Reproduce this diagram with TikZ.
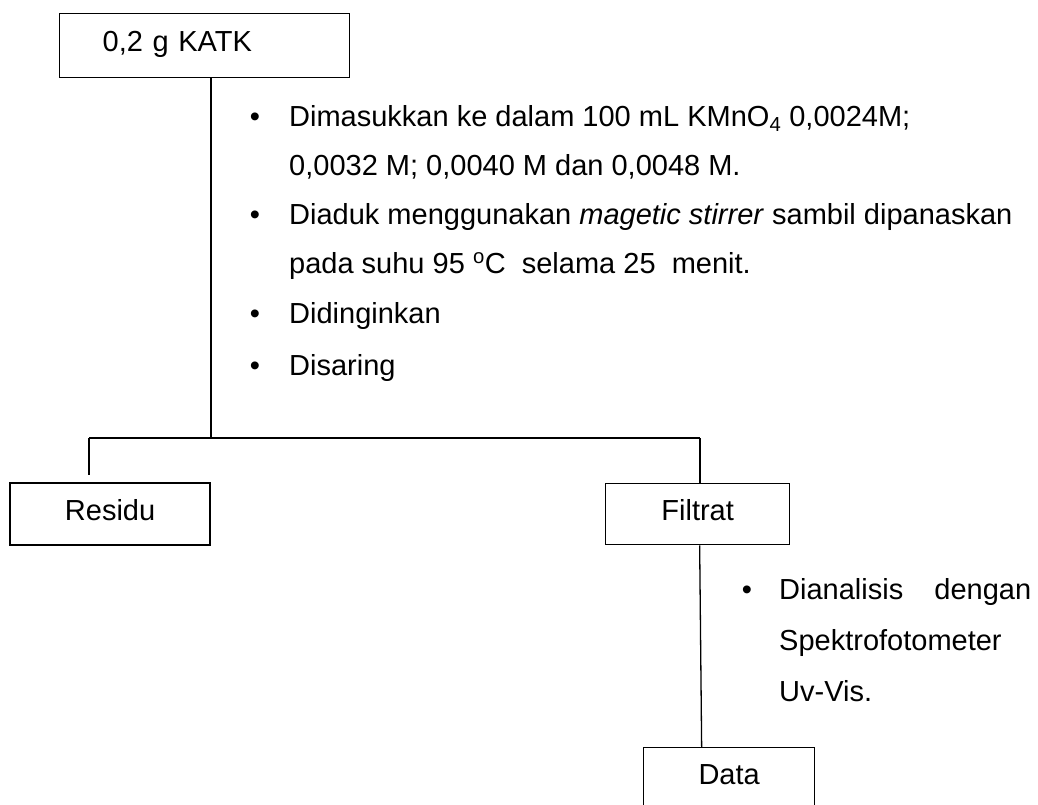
\documentclass[tikz,border=0pt]{standalone}
\usepackage{fontspec}
\setmainfont{Liberation Sans}
\begin{document}
\begin{tikzpicture}[x=1pt,y=-1pt,
  box/.style={draw, line width=1.3pt, inner sep=0pt, anchor=north west,
    font=\fontsize{29}{35}\selectfont, text height=20pt, text depth=8pt},
  txt/.style={anchor=base west, inner sep=0pt, font=\fontsize{29}{35}\selectfont},
  bul/.style={anchor=base, inner sep=0pt, font=\fontsize{29}{35}\selectfont},
  link/.style={line width=1.3pt},
  heavy/.style={line width=2.2pt}]
\useasboundingbox (0,0) rectangle (1038,804);

% boxes
\node[box, minimum width=290pt, minimum height=64pt, text width=204pt, inner xsep=43pt, align=left] (katk) at (59,13) {0,2 g KATK};
\node[box, heavy, minimum width=200pt, minimum height=62pt] (residu) at (9,482) {Residu};
\node[box, minimum width=184pt, minimum height=61pt] (filtrat) at (605,483) {Filtrat};
\node[box, minimum width=171pt, minimum height=62pt] (data) at (643,747) {Data};

% junctions
\coordinate (split) at (211,438);
\coordinate (lend) at (89,438);
\coordinate (rend) at (700,438);
\coordinate (ltip) at (89,475);

% connectors
\draw[link] (split |- katk.south) -- (split);
\draw[heavy] (lend) -- (rend);
\draw[heavy] (lend) -- (ltip);
\draw[link] (rend) -- (rend |- filtrat.north);
\draw[link] ([xshift=2pt]filtrat.south) -- ([xshift=-27.5pt]data.north);

% first list
\node[bul] (b1) at (255,126) {•};
\node[txt] (t1a) at (289,126) {Dimasukkan ke dalam 100 mL KMnO\textsubscript{4} 0,0024M;};
\node[txt] (t1b) at (289,175) {0,0032 M; 0,0040 M dan 0,0048 M.};
\node[bul] (b2) at (255,224) {•};
\node[txt] (t2a) at (289,224) {Diaduk menggunakan \textit{magetic stirrer} sambil dipanaskan};
\node[txt] (t2b) at (289,273) {pada suhu 95 \textsuperscript{o}C\ \ selama 25\ \ menit.};
\node[bul] (b3) at (255,323) {•};
\node[txt] (t3) at (289,323) {Didinginkan};
\node[bul] (b4) at (255,375) {•};
\node[txt] (t4) at (289,375) {Disaring};

% second list
\node[bul] (b5) at (747,599) {•};
\node[txt] (t5a) at (779,599) {\makebox[252pt][l]{Dianalisis\hfill dengan}};
\node[txt] (t5b) at (779,650) {Spektrofotometer};
\node[txt] (t5c) at (779,701) {Uv-Vis.};
\end{tikzpicture}
\end{document}
